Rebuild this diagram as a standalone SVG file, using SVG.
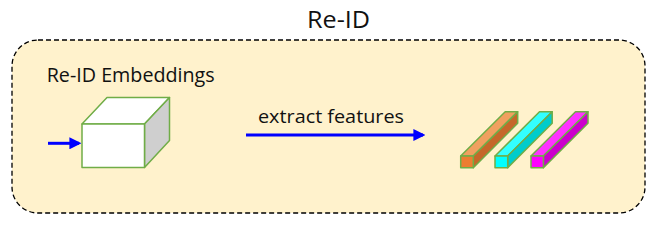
<svg xmlns="http://www.w3.org/2000/svg" width="657" height="228" viewBox="0 0 657 228">
<style>
.t{font-family:"Open Sans","Noto Sans",sans-serif;fill:#111}
.g{stroke:#70AD47;stroke-width:1.5;stroke-linejoin:round}
.c{stroke:#0000FF;stroke-width:3;fill:none}
</style>
<defs>
<marker id="ah" markerWidth="4" markerHeight="4" refX="3.2" refY="2" orient="auto" markerUnits="strokeWidth">
<path d="M0,0 L4,2 L0,4 z" fill="#0000FF"/>
</marker>
</defs>
<rect width="657" height="228" fill="#fff"/>
<g id="container">
<rect x="12" y="40" width="633" height="173" rx="26" ry="26" fill="#FFF2CC" stroke="#000" stroke-width="1.3" stroke-dasharray="5,3"/>
<text class="t" x="307" y="28.3" font-size="24.5" textLength="63" lengthAdjust="spacingAndGlyphs">Re-ID</text>
</g>
<g id="embeddings">
<text class="t" x="46.7" y="82.3" font-size="20" textLength="168" lengthAdjust="spacingAndGlyphs">Re-ID Embeddings</text>
<polygon class="g" points="82,124 107,97.5 169.5,97.5 144.5,124" fill="#fff"/>
<polygon class="g" points="144.5,124 169.5,97.5 169.5,140.5 144.5,167.5" fill="#CFCFCF"/>
<rect class="g" x="82" y="124" width="62.5" height="43.5" fill="#fff"/>
</g>
<g id="features">
<polygon class="g" points="460.7,156 505.2,111.7 517.7,111.7 473.3,156" fill="#F0A060"/>
<polygon class="g" points="473.3,156 517.7,111.7 517.7,123.3 473.3,167.7" fill="#C5672A"/>
<rect class="g" x="460.7" y="156" width="12.6" height="11.7" fill="#ED7D31"/>
<polygon class="g" points="495,156 539.5,111.7 552.2,111.7 507.7,156" fill="#33FFFF"/>
<polygon class="g" points="507.7,156 552.2,111.7 552.2,123.3 507.7,167.7" fill="#00CCCC"/>
<rect class="g" x="495" y="156" width="12.7" height="11.7" fill="#00FFFF"/>
<polygon class="g" points="531,156 575.5,111.7 588,111.7 543.4,156" fill="#FF33FF"/>
<polygon class="g" points="543.4,156 588,111.7 588,123.3 543.4,167.7" fill="#CC00CC"/>
<rect class="g" x="531" y="156" width="12.4" height="11.7" fill="#FF00FF"/>
</g>
<g id="connectors">
<line class="c" x1="48" y1="143.3" x2="79" y2="143.3" stroke-width="2.5" marker-end="url(#ah)"/>
<line class="c" x1="246" y1="135" x2="423" y2="135" marker-end="url(#ah)"/>
<text class="t" x="258" y="123.3" font-size="18" textLength="146" lengthAdjust="spacingAndGlyphs">extract features</text>
</g>
</svg>
